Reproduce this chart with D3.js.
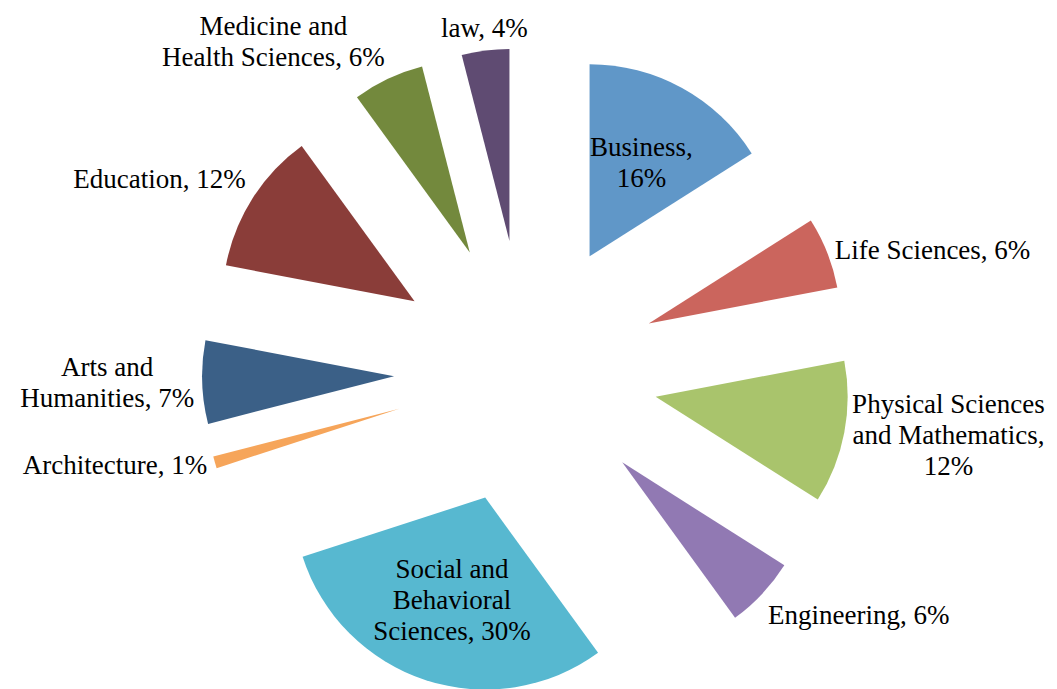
<!DOCTYPE html>
<html>
<head>
<meta charset="utf-8">
<script src="https://cdn.jsdelivr.net/npm/d3@7"></script>
<style>
  html, body { margin: 0; padding: 0; background: #fff; }
  svg text { font-family: "Liberation Serif", "Times New Roman", serif; font-size: 27px; fill: #000; }
</style>
</head>
<body>
<svg id="chart" width="1057" height="689"></svg>
<script>
// Share of degrees by field, in percent, clockwise from 12 o'clock
const categories = [
  "Business", "Life Sciences", "Physical Sciences and Mathematics", "Engineering",
  "Social and Behavioral Sciences", "Architecture", "Arts and Humanities",
  "Education", "Medicine and Health Sciences", "law"
];
const values = [16, 6, 12, 6, 30, 1, 7, 12, 6, 4];
const colors = [
  "#6097C8", "#CB655D", "#A9C46C", "#9179B3", "#57B8D0",
  "#F6A55A", "#3B6087", "#8A3D39", "#73893D", "#5F4B72"
];
// Label text lines for each slice
const labelLines = [
  ["Business,", "16%"],
  ["Life Sciences, 6%"],
  ["Physical Sciences", "and Mathematics,", "12%"],
  ["Engineering, 6%"],
  ["Social and", "Behavioral", "Sciences, 30%"],
  ["Architecture, 1%"],
  ["Arts and", "Humanities, 7%"],
  ["Education, 12%"],
  ["Medicine and", "Health Sciences, 6%"],
  ["law, 4%"]
];
const insideLabel = [true, false, false, false, true, false, false, false, false, false];

const svg = d3.select("#chart");
const cx = 526, cy = 372;
const radius = 192;
const explode = 132;
const labelGap = 8;
const lineH = 31;

const pie = d3.pie().sort(null).startAngle(0).endAngle(2 * Math.PI).value(d => d);
const arc = d3.arc().innerRadius(0).outerRadius(radius);
const arcs = pie(values);

const g = svg.append("g").attr("transform", `translate(${cx},${cy})`);

const slice = g.selectAll("g.slice")
  .data(arcs)
  .join("g")
  .attr("class", "slice")
  .attr("transform", d => {
    const a = (d.startAngle + d.endAngle) / 2;
    return `translate(${explode * Math.sin(a)},${-explode * Math.cos(a)})`;
  });

slice.append("path")
  .attr("d", arc)
  .attr("fill", (d, i) => colors[i]);

// Labels: inside ones sit within the slice, outside ones hug the slice's outer edge
arcs.forEach((d, i) => {
  const a = (d.startAngle + d.endAngle) / 2;
  const s = Math.sin(a), c = Math.cos(a);
  const lines = labelLines[i];
  const h = lines.length * lineH;
  const t = g.append("text").attr("text-anchor", "middle");
  const tspans = lines.map(ln => t.append("tspan").text(ln));
  const w = d3.max(tspans, sp => sp.node().getComputedTextLength());

  let bx, by; // box center
  if (insideLabel[i]) {
    const r = explode + radius * 0.56;
    bx = r * s; by = -r * c;
  } else {
    const r = explode + radius + labelGap;
    const px = r * s, py = -r * c;
    bx = s > 0.25 ? px + w / 2 : (s < -0.25 ? px - w / 2 : px);
    by = c > 0.4 ? py - h / 2 : (c < -0.4 ? py + h / 2 : py);
  }
  tspans.forEach((sp, k) => {
    sp.attr("x", bx)
      .attr("y", by - h / 2 + lineH * k + lineH * 0.5)
      .attr("dy", "0.35em");
  });
});
</script>
</body>
</html>
